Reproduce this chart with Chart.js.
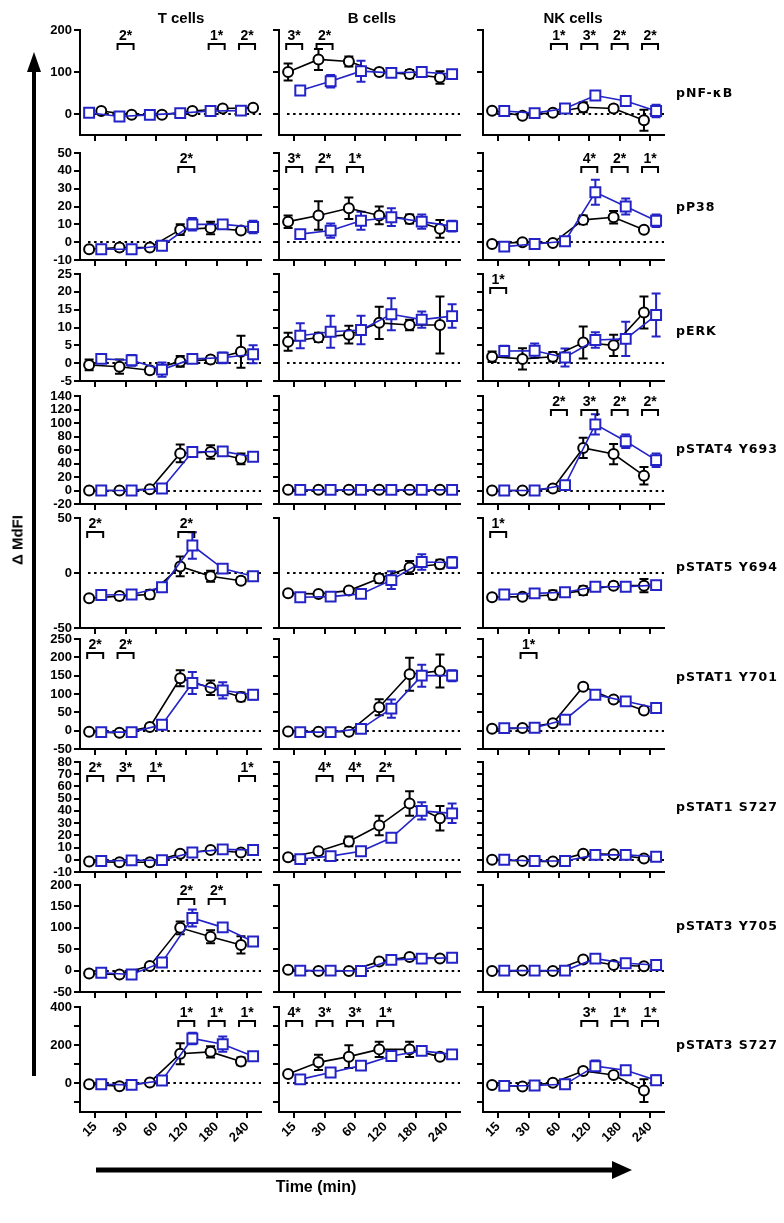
<!DOCTYPE html>
<html><head><meta charset="utf-8">
<script src="https://cdn.jsdelivr.net/npm/chart.js@4.4.1/dist/chart.umd.min.js"></script>
<style>
html,body{margin:0;padding:0;background:#fff}
body{position:relative;width:784px;height:1223px;overflow:hidden}
canvas{position:absolute}
.lbl{position:absolute;font-family:'Liberation Sans',Arial,sans-serif;font-weight:bold;color:#000;white-space:nowrap}
.row{font-family:'DejaVu Sans',sans-serif;font-size:12.5px;letter-spacing:1px;font-weight:bold}
</style></head><body>
<svg width="784" height="1223" style="position:absolute;left:0;top:0">
  <line x1="34" y1="1076" x2="34" y2="70" stroke="#000" stroke-width="4"/>
  <polygon points="34,52 27,72 41,72" fill="#000"/>
  <line x1="96" y1="1170" x2="614" y2="1170" stroke="#000" stroke-width="5"/>
  <polygon points="632,1170 612,1161 612,1179" fill="#000"/>
</svg>
<script>
// ---------- labels ----------
const TIMES = ['15', '30', '60', '120', '180', '240'];
const CELLS = ['T cells', 'B cells', 'NK cells'];
const MARKERS = ['pNF-\u03baB', 'pP38', 'pERK', 'pSTAT4 Y693', 'pSTAT5 Y694', 'pSTAT1 Y701', 'pSTAT1 S727', 'pSTAT3 Y705', 'pSTAT3 S727'];

// ---------- y axes per row ----------
const Y_MIN = [-50, -10, -5, -20, -50, -50, -10, -50, -150];
const Y_MAX = [200, 50, 25, 140, 50, 250, 80, 200, 400];
const Y_TICKS = [
  [200, 100, 0],
  [50, 40, 30, 20, 10, 0, -10],
  [25, 20, 15, 10, 5, 0, -5],
  [140, 120, 100, 80, 60, 40, 20, 0, -20],
  [50, 0, -50],
  [250, 200, 150, 100, 50, 0, -50],
  [80, 70, 60, 50, 40, 30, 20, 10, 0, -10],
  [200, 150, 100, 50, 0, -50],
  [400, 300, 200, 100, 0, -100]
];
const Y_UNLABELED = [[], [], [], [], [], [], [], [], [300, 100, -100]];

// ---------- data (inner arrays: T cells, B cells, NK cells; values at 15..240 min) ----------
// black = open circles, blue = open squares
const NFKB_BLACK = [[7, -2, -2, 7, 13, 15], [100, 130, 125, 100, 95, 87], [8, -4, 3, 16, 13, -15]];
const NFKB_BLACK_SEM = [[2, 2, 2, 2, 4, 3], [20, 25, 12, 8, 10, 15], [3, 2, 3, 12, 8, 25]];
const NFKB_BLUE = [[3, -6, -2, 2, 7, 8], [56, 78, 102, 98, 100, 95], [7, 2, 13, 44, 31, 7]];
const NFKB_BLUE_SEM = [[2, 2, 2, 2, 3, 3], [5, 15, 25, 8, 5, 8], [2, 2, 3, 10, 5, 15]];
const NFKB_SIG = [[[1, '2*'], [4, '1*'], [5, '2*']], [[0, '3*'], [1, '2*']], [[2, '1*'], [3, '3*'], [4, '2*'], [5, '2*']]];

const P38_BLACK = [[-4, -3, -3, 7, 8, 6.5], [11.5, 15, 19, 15, 13, 7.5], [-1, 0, -0.5, 12.5, 14, 7]];
const P38_BLACK_SEM = [[1, 2, 1, 3, 3.5, 1], [3.5, 8, 6, 5, 2.5, 5], [0.5, 1.5, 1, 2.5, 3.5, 1]];
const P38_BLUE = [[-4, -4, -2, 10, 10, 8.5], [4.5, 6.5, 12, 14, 11.5, 9], [-2.5, -1, 0.5, 28, 20, 12]];
const P38_BLUE_SEM = [[1, 1, 1, 3.5, 2, 3.5], [2, 4, 5, 5, 4, 3], [1, 0.5, 1.5, 7, 4.5, 3.5]];
const P38_SIG = [[[3, '2*']], [[0, '3*'], [1, '2*'], [2, '1*']], [[3, '4*'], [4, '2*'], [5, '1*']]];

const ERK_BLACK = [[-0.5, -1, -2, 0.5, 1, 3.2], [6, 7.2, 8, 11.3, 10.7, 10.7], [1.8, 1.2, 1.8, 5.8, 5, 14.2]];
const ERK_BLACK_SEM = [[1.5, 2, 1, 1.5, 1, 4.5], [2.5, 1.3, 2.5, 4.5, 1.5, 8], [1.5, 3, 1.3, 4.5, 3, 4.5]];
const ERK_BLUE = [[1.2, 0.8, -1.8, 1.2, 1.5, 2.5], [7.7, 8.8, 9.3, 13.7, 12.2, 13.2], [3.4, 3.5, 1.6, 6.5, 6.8, 13.5]];
const ERK_BLUE_SEM = [[1, 1.5, 2, 0.8, 1.5, 2.5], [3.5, 4.5, 4, 4.5, 2.3, 3.3], [1.5, 2, 2.5, 2.2, 4.8, 6]];
const ERK_SIG = [[], [], [[0, '1*']]];

const STAT4_BLACK = [[0, 0, 2, 55, 57, 47], [1, 1, 1, 1, 1, 1], [0, 0, 3, 63, 54, 22]];
const STAT4_BLACK_SEM = [[1, 1, 1, 13, 10, 8], [0, 0, 0, 0, 0, 0], [1, 1, 1, 15, 15, 13]];
const STAT4_BLUE = [[0, 0, 3, 57, 58, 50], [1, 1, 1, 1, 1, 1], [0, 0, 8, 98, 73, 45]];
const STAT4_BLUE_SEM = [[1, 1, 1, 5, 5, 3], [0, 0, 0, 0, 0, 0], [1, 1, 2, 15, 10, 10]];
const STAT4_SIG = [[], [], [[2, '2*'], [3, '3*'], [4, '2*'], [5, '2*']]];

const STAT5_BLACK = [[-23, -21, -19.5, 6, -3, -7], [-18.5, -19, -16, -5, 5, 8], [-22, -21.5, -20, -16, -11.5, -11.5]];
const STAT5_BLACK_SEM = [[1, 3, 4, 9, 5, 3], [1, 1.5, 2, 4, 6, 4], [1, 1.5, 4, 4, 3, 6]];
const STAT5_BLUE = [[-20, -19.5, -13, 25, 4, -3], [-22, -21.5, -19, -6.5, 10, 9.5], [-19.5, -18.5, -17.5, -12.5, -12.5, -11]];
const STAT5_BLUE_SEM = [[1.5, 1, 2, 12, 4, 2], [2, 2, 2, 8, 7, 5], [1.5, 1.5, 2, 2, 2, 2]];
const STAT5_SIG = [[[0, '2*'], [3, '2*']], [], [[0, '1*']]];

const STAT1Y_BLACK = [[-3, -6, 10, 143, 117, 92], [-2, -3, -3, 64, 154, 163], [5, 7, 20, 120, 85, 55]];
const STAT1Y_BLACK_SEM = [[2, 3, 3, 22, 20, 12], [2, 2, 2, 22, 45, 45], [2, 2, 3, 5, 5, 5]];
const STAT1Y_BLUE = [[-4, -4, 16, 130, 110, 98], [-4, -4, 5, 60, 150, 150], [7, 8, 30, 98, 80, 62]];
const STAT1Y_BLUE_SEM = [[2, 2, 3, 30, 22, 13], [2, 2, 2, 25, 30, 15], [2, 2, 3, 4, 4, 3]];
const STAT1Y_SIG = [[[0, '2*'], [1, '2*']], [], [[1, '1*']]];

const STAT1S_BLACK = [[-1.5, -2, -2, 5, 8, 6], [2, 7, 15, 28, 46, 34], [0, -1, -1.5, 5, 4.5, 1]];
const STAT1S_BLACK_SEM = [[1, 1, 1, 1.5, 1.5, 1], [1, 2, 4, 8, 10, 10], [1, 1, 1, 1, 1, 2]];
const STAT1S_BLUE = [[-1, -0.5, -0.3, 6, 8.5, 8], [0.5, 3, 7, 18, 40, 38], [0, -1, -1, 4, 4, 2.5]];
const STAT1S_BLUE_SEM = [[1, 1, 1, 1, 1.5, 1], [1, 1, 1.5, 3, 7, 8], [1, 1, 1, 1, 1, 1]];
const STAT1S_SIG = [[[0, '2*'], [1, '3*'], [2, '1*'], [5, '1*']], [[1, '4*'], [2, '4*'], [3, '2*']], []];

const STAT3Y_BLACK = [[-7, -9, 11, 100, 79, 60], [2, -1, -1, 21, 32, 28], [-1, 0, -1, 26, 13, 10]];
const STAT3Y_BLACK_SEM = [[2, 2, 5, 15, 15, 20], [1, 1, 1, 3, 3, 2], [1, 1, 1, 3, 3, 3]];
const STAT3Y_BLUE = [[-5, -9, 19, 123, 101, 68], [0, 0, -1, 25, 28, 30], [0, 0, 0, 28, 17, 13]];
const STAT3Y_BLUE_SEM = [[2, 2, 3, 20, 10, 5], [1, 1, 1, 3, 2, 3], [1, 1, 1, 3, 3, 2]];
const STAT3Y_SIG = [[[3, '2*'], [4, '2*']], [], []];

const STAT3S_BLACK = [[-5, -15, 5, 155, 165, 115], [49, 110, 140, 178, 178, 140], [-8, -16, 3, 65, 44, -38]];
const STAT3S_BLACK_SEM = [[3, 5, 5, 55, 30, 20], [5, 40, 60, 40, 40, 10], [3, 3, 3, 15, 10, 60]];
const STAT3S_BLUE = [[-5, -8, 15, 235, 205, 142], [21, 57, 93, 143, 170, 152], [-13, -11, -5, 90, 69, 16]];
const STAT3S_BLUE_SEM = [[5, 5, 5, 30, 40, 8], [3, 8, 10, 10, 15, 8], [3, 3, 3, 30, 15, 25]];
const STAT3S_SIG = [[[3, '1*'], [4, '1*'], [5, '1*']], [[0, '4*'], [1, '3*'], [2, '3*'], [3, '1*']], [[3, '3*'], [4, '1*'], [5, '1*']]];

// tables built from the arrays above
const ROW_BLACK = [NFKB_BLACK, P38_BLACK, ERK_BLACK, STAT4_BLACK, STAT5_BLACK, STAT1Y_BLACK, STAT1S_BLACK, STAT3Y_BLACK, STAT3S_BLACK];
const ROW_BLACK_SEM = [NFKB_BLACK_SEM, P38_BLACK_SEM, ERK_BLACK_SEM, STAT4_BLACK_SEM, STAT5_BLACK_SEM, STAT1Y_BLACK_SEM, STAT1S_BLACK_SEM, STAT3Y_BLACK_SEM, STAT3S_BLACK_SEM];
const ROW_BLUE = [NFKB_BLUE, P38_BLUE, ERK_BLUE, STAT4_BLUE, STAT5_BLUE, STAT1Y_BLUE, STAT1S_BLUE, STAT3Y_BLUE, STAT3S_BLUE];
const ROW_BLUE_SEM = [NFKB_BLUE_SEM, P38_BLUE_SEM, ERK_BLUE_SEM, STAT4_BLUE_SEM, STAT5_BLUE_SEM, STAT1Y_BLUE_SEM, STAT1S_BLUE_SEM, STAT3Y_BLUE_SEM, STAT3S_BLUE_SEM];
const ROW_SIG = [NFKB_SIG, P38_SIG, ERK_SIG, STAT4_SIG, STAT5_SIG, STAT1Y_SIG, STAT1S_SIG, STAT3Y_SIG, STAT3S_SIG];

// ---------- layout ----------
const PANEL_X = [80, 279, 483];
const PANEL_W = 181;
const ROW_TOP = [30, 153, 274, 396, 518, 639, 762, 885, 1007];
const ROW_BOT = [135, 260, 381, 504, 628, 749, 872, 992, 1112];
const ROW_LABEL_Y = [93, 207, 331, 449, 567, 677, 807, 926, 1045];
const TITLE_X = [181, 372, 573];
const PL = 4, PR = 14, PT = 14, PB = 4, WY = 56;
const BLUE_C = '#2323c8';
const FONT = "'Liberation Sans', Arial, sans-serif";

Chart.defaults.font = { family: FONT, size: 13, weight: 'bold' };
Chart.defaults.color = '#000';

function addText(txt, x, y, cls, extra) {
  const d = document.createElement('div');
  d.className = 'lbl ' + (cls || '');
  d.textContent = txt;
  d.style.left = x + 'px';
  d.style.top = y + 'px';
  if (extra) Object.assign(d.style, extra);
  document.body.appendChild(d);
  return d;
}

const panelPlugin = {
  id: 'panelDeco',
  beforeDatasetsDraw(chart) {
    const { ctx, chartArea, scales: { x, y } } = chart;
    ctx.save();
    const y0 = Math.round(y.getPixelForValue(0));
    ctx.setLineDash([2.5, 3.6]);
    ctx.lineWidth = 2;
    ctx.strokeStyle = '#000';
    ctx.beginPath();
    ctx.moveTo(chartArea.left + 8, y0);
    ctx.lineTo(chartArea.right, y0);
    ctx.stroke();
    ctx.setLineDash([]);
    chart.data.datasets.forEach(ds => {
      ds.data.forEach((p, i) => {
        const e = ds.sem[i];
        if (!e) return;
        const px = x.getPixelForValue(p.x);
        const pt = y.getPixelForValue(p.y + e);
        const pb = y.getPixelForValue(p.y - e);
        ctx.strokeStyle = ds.borderColor;
        ctx.lineWidth = 2;
        ctx.beginPath();
        ctx.moveTo(px, pt); ctx.lineTo(px, pb);
        ctx.moveTo(px - 4.5, pt); ctx.lineTo(px + 4.5, pt);
        ctx.moveTo(px - 4.5, pb); ctx.lineTo(px + 4.5, pb);
        ctx.stroke();
      });
    });
    ctx.restore();
  },
  afterDraw(chart) {
    const { ctx, chartArea, scales: { x } } = chart;
    const sig = chart.options.plugins.panelDeco.sig || [];
    ctx.save();
    ctx.strokeStyle = '#000';
    ctx.fillStyle = '#000';
    ctx.lineWidth = 2;
    ctx.font = 'bold 14px ' + FONT;
    ctx.textAlign = 'center';
    ctx.textBaseline = 'alphabetic';
    sig.forEach(([i, lab]) => {
      const cx = x.getPixelForValue(i);
      const by = chartArea.top + 14;
      ctx.beginPath();
      ctx.moveTo(cx - 8, by + 6); ctx.lineTo(cx - 8, by); ctx.lineTo(cx + 8, by); ctx.lineTo(cx + 8, by + 6);
      ctx.stroke();
      ctx.fillText(lab, cx, chartArea.top + 10);
    });
    ctx.restore();
  }
};

function makePanel(r, c) {
  const top = ROW_TOP[r], bot = ROW_BOT[r], left = PANEL_X[c];
  const h = bot - top;
  const bottomRow = r === 8;
  const hx = bottomRow ? 50 : 8;
  const W = PL + WY + PANEL_W + PR, H = PT + h + hx + PB;
  const cv = document.createElement('canvas');
  cv.width = W; cv.height = H;
  cv.style.left = (left - PL - WY) + 'px';
  cv.style.top = (top - PT) + 'px';
  cv.style.width = W + 'px'; cv.style.height = H + 'px';
  document.body.appendChild(cv);
  const swap = (r === 0 && c === 0);
  const offBlack = swap ? 0.2 : -0.2, offBlue = -offBlack;
  const blue = ROW_BLUE[r][c], black = ROW_BLACK[r][c];
  const unl = Y_UNLABELED[r];
  new Chart(cv, {
    type: 'line',
    data: {
      datasets: [
        {
          data: blue.map((v, i) => ({ x: i + offBlue, y: v })),
          sem: ROW_BLUE_SEM[r][c],
          borderColor: BLUE_C, backgroundColor: '#fff', borderWidth: 1.6,
          pointStyle: 'rect', pointRadius: 7, pointBorderWidth: 2,
          pointBorderColor: BLUE_C, pointBackgroundColor: '#fff', tension: 0, clip: false
        },
        {
          data: black.map((v, i) => ({ x: i + offBlack, y: v })),
          sem: ROW_BLACK_SEM[r][c],
          borderColor: '#000', backgroundColor: '#fff', borderWidth: 1.6,
          pointStyle: 'circle', pointRadius: 5, pointBorderWidth: 2,
          pointBorderColor: '#000', pointBackgroundColor: '#fff', tension: 0, clip: false
        }
      ]
    },
    options: {
      responsive: false, animation: false, devicePixelRatio: 1,
      events: [],
      layout: { padding: { left: PL, right: PR, top: PT, bottom: PB } },
      plugins: { legend: { display: false }, tooltip: { enabled: false }, panelDeco: { sig: ROW_SIG[r][c] } },
      scales: {
        x: {
          type: 'linear', min: -0.5, max: 5.46,
          afterBuildTicks: s => { s.ticks = TIMES.map((t, i) => ({ value: i })); },
          afterFit: s => { s.height = hx; },
          grid: { display: true, drawOnChartArea: false, drawTicks: true, tickLength: 6, color: '#000', lineWidth: 2 },
          border: { display: true, color: '#000', width: 2 },
          ticks: {
            autoSkip: false, padding: 1,
            minRotation: bottomRow ? 45 : 0, maxRotation: bottomRow ? 45 : 0,
            font: { size: 13, weight: 'bold', family: FONT },
            callback: v => bottomRow ? TIMES[v] : ''
          }
        },
        y: {
          type: 'linear', min: Y_MIN[r], max: Y_MAX[r],
          afterBuildTicks: s => { s.ticks = Y_TICKS[r].map(v => ({ value: v })); },
          afterFit: s => { s.width = WY; },
          grid: { display: true, drawOnChartArea: false, drawTicks: true, tickLength: 6, color: '#000', lineWidth: 2 },
          border: { display: true, color: '#000', width: 2 },
          ticks: {
            autoSkip: false, padding: 2,
            font: { size: 13, weight: 'bold', family: FONT },
            callback: v => (c === 0 && !unl.includes(v)) ? String(v) : ''
          }
        }
      }
    },
    plugins: [panelPlugin]
  });
}

for (let r = 0; r < 9; r++) for (let c = 0; c < 3; c++) makePanel(r, c);

// titles and labels
CELLS.forEach((t, c) => {
  addText(t, TITLE_X[c], 9, '', { fontSize: '15px', transform: 'translateX(-50%)' });
});
MARKERS.forEach((m, r) => {
  addText(m, 676, ROW_LABEL_Y[r] - 8, 'row');
});
addText('\u0394 MdFI', 17, 540, '', { fontSize: '15px', transform: 'translate(-50%,-50%) rotate(-90deg)' });
addText('Time (min)', 316, 1178, '', { fontSize: '16px', transform: 'translateX(-50%)' });
</script>
</body></html>
